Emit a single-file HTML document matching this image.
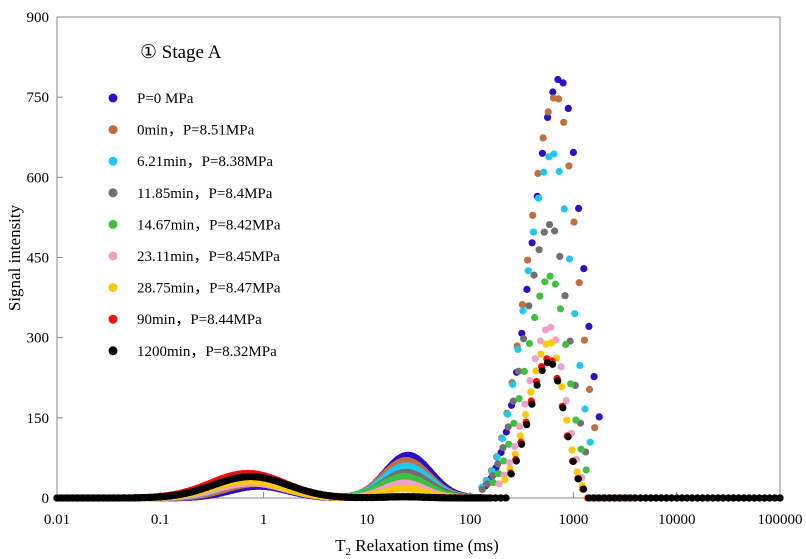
<!DOCTYPE html>
<html><head><meta charset="utf-8"><style>body{margin:0;background:#fff}svg{display:block;font-family:"Liberation Serif",serif}</style></head>
<body>
<svg id="s" width="806" height="559" xmlns="http://www.w3.org/2000/svg">
<rect x="57" y="17" width="723" height="481" fill="none" stroke="#888" stroke-width="1"/>
<g id="ticks" stroke="#888"></g>
<g id="data"></g>
<g font-size="15" fill="#000" id="lab"></g>
<text x="140" y="58" font-size="19">① Stage A</text>
<text transform="translate(20,258) rotate(-90)" font-size="17" text-anchor="middle">Signal intensity</text>
<text x="417" y="551" font-size="17" text-anchor="middle">T<tspan font-size="11" dy="4">2</tspan><tspan dy="-4"> Relaxation time (ms)</tspan></text>
</svg>
<script>
const NS="http://www.w3.org/2000/svg";
const X=l=>57+(l+2)*723/7, Y=v=>498-v*481/900;
const el=(p,t,a,txt)=>{const e=document.createElementNS(NS,t);for(const k in a)e.setAttribute(k,a[k]);if(txt!=null)e.textContent=txt;document.getElementById(p).appendChild(e);};
const xl=["0.01","0.1","1","10","100","1000","10000","100000"];
xl.forEach((t,i)=>{const x=X(i-2);el("ticks","line",{x1:x,x2:x,y1:498,y2:492});el("lab","text",{x:x,y:524,"text-anchor":"middle"},t);});
for(let v=0;v<=900;v+=150){const y=Y(v);el("ticks","line",{x1:57,x2:63,y1:y,y2:y});el("lab","text",{x:49,y:y+5,"text-anchor":"end"},v);}
const S=[
["#2a10c8",[22,0.9,0.28],[80,25,0.22],[785,740,0.27,0.21,0.75,0.4],"P=0 MPa"],
["#c07040",[27,0.85,0.3],[70,24,0.22],[752,680,0.27,0.2,0.72,0.38],"0min，P=8.51MPa"],
["#20c8f0",[30,0.8,0.32],[60,24,0.22],[645,630,0.26,0.19,0.7,0.37],"6.21min，P=8.38MPa"],
["#707070",[33,0.8,0.33],[48,24,0.22],[512,600,0.25,0.18,0.68,0.36],"11.85min，P=8.4MPa"],
["#40c040",[35,0.8,0.34],[40,23,0.22],[415,600,0.24,0.17,0.6,0.35],"14.67min，P=8.42MPa"],
["#f0a0c8",[28,0.75,0.33],[28,23,0.2],[320,590,0.22,0.15,0.52,0.35],"23.11min，P=8.45MPa"],
["#f8c800",[32,0.7,0.34],[18,23,0.2],[292,590,0.21,0.14,0.46,0.35],"28.75min，P=8.47MPa"],
["#f01010",[46,0.7,0.36],[3,23,0.2],[262,580,0.2,0.14,0.42,0.36],"90min，P=8.44MPa"],
["#000000",[40,0.75,0.36],[2,23,0.2],[255,590,0.2,0.14,0.42,0.34],"1200min，P=8.32MPa"]];
S.forEach((s,i)=>{
  const p3=s[3], c3=Math.log10(p3[1]);
  const f3=l=>{const d=l-c3; if(d<-p3[4]||d>p3[5])return 0; const sg=d<0?p3[2]:p3[3]; return p3[0]*Math.exp(-d*d/(2*sg*sg));};
  const f12=l=>{let v=0;[s[1],s[2]].forEach(([a,c,sg])=>{const d=l-Math.log10(c);v+=a*Math.exp(-d*d/(2*sg*sg));});return v;};
  for(let k=0;k<=140;k++){
    const l=-2+7*k/140; if(l>1.9&&l<3.6)continue;
    el("data","circle",{cx:X(l).toFixed(1),cy:Y(f12(l)+f3(l)).toFixed(1),r:3.6,fill:s[0]});
  }
  for(let l=1.9+i*0.006;l<=3.6;l+=0.05){
    el("data","circle",{cx:X(l).toFixed(1),cy:Y(f12(l)+f3(l)).toFixed(1),r:3.6,fill:s[0]});
  }
  for(let k=0;k<=600;k++){
    const l=-2+4.2*k/600;
    el("data","circle",{cx:X(l).toFixed(1),cy:Y(f12(l)).toFixed(1),r:3.4,fill:s[0]});
  }
  const y=98+i*31.6;
  el("data","circle",{cx:113,cy:y,r:4.5,fill:s[0]});
  el("lab","text",{x:137,y:y+5},s[4]);
});
</script>
</body></html>
